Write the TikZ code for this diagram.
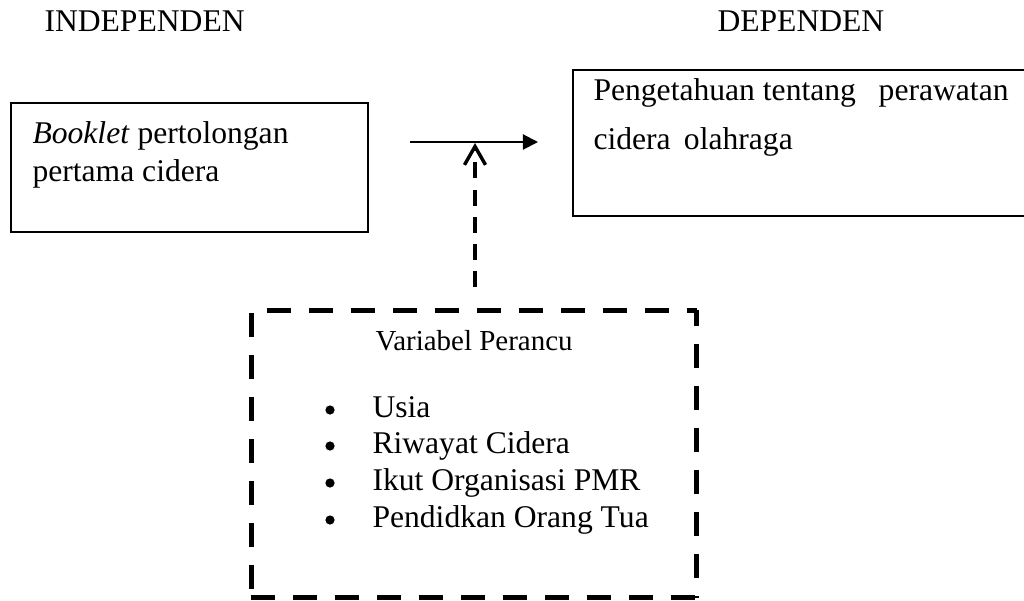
\documentclass[tikz,border=0pt]{standalone}
\usepackage{fontspec}
\setmainfont{Liberation Serif}
\usetikzlibrary{arrows.meta,fit}
\begin{document}
\begin{tikzpicture}[x=0.3797pt,y=-0.3797pt,
  txt/.style={inner sep=0pt,anchor=base west,font=\fontsize{12}{14}\selectfont},
  smalltxt/.style={inner sep=0pt,anchor=base west,font=\fontsize{11}{13}\selectfont},
  box/.style={draw,line width=0.76pt,inner sep=0pt},
  hollow/.style={draw=none,inner sep=0pt},
  dashline/.style={line width=1.9pt,dash pattern=on 9.11pt off 6.83pt},
  harrow/.style={line width=0.76pt,-{Triangle[length=5.7pt,width=5.7pt]}},
  varrow/.style={line width=1.25pt,dash pattern=on 6.1pt off 4.2pt,-{Straight Barb[length=7pt,width=8pt,line width=1.3pt]}},
  dot/.style={circle,fill,inner sep=0pt,minimum size=3.5pt}]
\useasboundingbox (0,0) rectangle (1024,600);
% headings
\node[txt] (hind) at (44,31) {INDEPENDEN};
\node[txt] (hdep) at (717,31) {DEPENDEN};
% left box
\coordinate (lb1) at (11,103);
\coordinate (lb2) at (368,232);
\node[box,fit=(lb1)(lb2)] (lb) {};
\node[txt] (lt1) at (32,143) {\textit{Booklet} pertolongan};
\node[txt] (lt2) at (32,181) {pertama cidera};
% right box
\coordinate (rb1) at (573,70);
\coordinate (rb2) at (1032,216);
\node[box,fit=(rb1)(rb2)] (rb) {};
\node[txt] (rt1) at (593,100) {Pengetahuan tentang\hspace{0.72em}perawatan};
\node[txt] (rt2) at (593,149) {cidera\hspace{0.42em}olahraga};
% main arrow
\coordinate (a1) at (410,142);
\coordinate (a2) at (538,142);
\draw[harrow] (a1) -- (a2);
% confounding box
\coordinate (db1) at (252,311);
\coordinate (db2) at (696,597);
\node[hollow,fit=(db1)(db2)] (db) {};
\draw[dashline,dash phase=9.87pt] (db.north west) -- (db.north east);
\draw[dashline,dash phase=14.8pt] (db.north west) -- (db.south west);
\draw[dashline,dash phase=3.04pt] (db.north east) -- (db.south east);
\draw[dashline] (db.south west) -- (db.south east);
\node[smalltxt] (vp) at (375,350) {Variabel Perancu};
\foreach \t/\yy/\n in {Usia/417/i1, Riwayat Cidera/453/i2, Ikut Organisasi PMR/490/i3, Pendidkan Orang Tua/527/i4}{
  \node[txt] (\n) at (372,\yy) {\t};
  \node[dot] (\n d) at (330,\yy-7) {};
}
% dashed arrow
\coordinate (v1) at (475,287);
\coordinate (v2) at (475,143);
\draw[varrow] (v1) -- (v2);
\end{tikzpicture}
\end{document}
